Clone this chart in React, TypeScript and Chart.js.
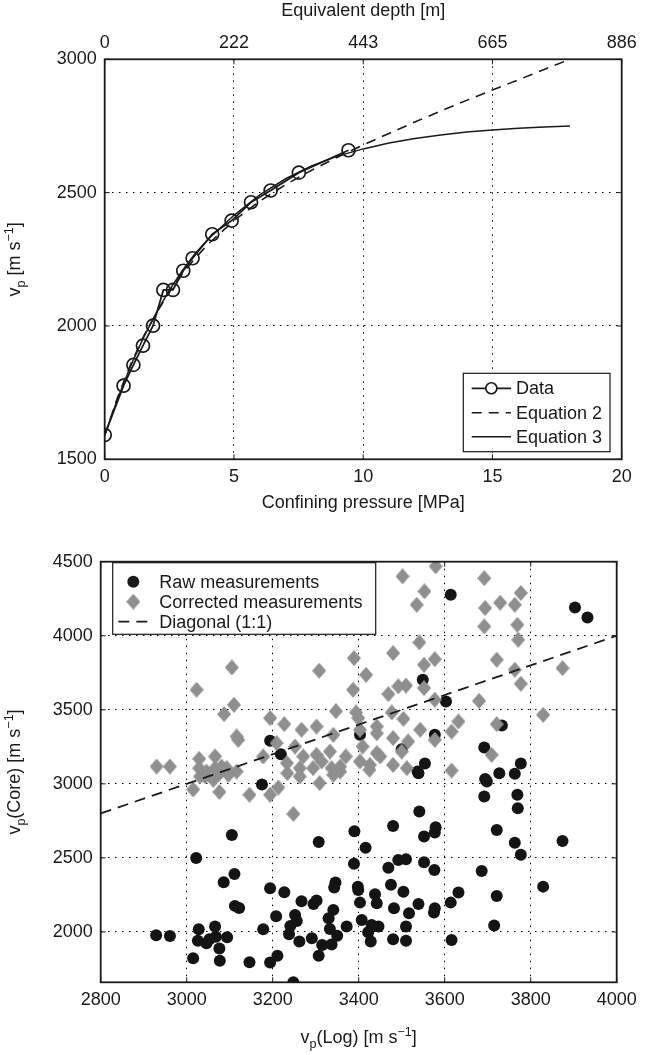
import React, { useEffect, useRef } from 'react';
import { Chart, registerables } from 'chart.js';

Chart.register(...registerables);

const FONT = "'Liberation Sans', Arial, Helvetica, sans-serif";
const INK = '#1a1a1a';

// ---------- Top chart data ----------
const pressureData = [0, 0.73, 1.11, 1.48, 1.87, 2.27, 2.64, 3.04, 3.4, 4.16, 4.91, 5.66, 6.42, 7.51, 9.43];
const velocityData = [1591, 1776, 1854, 1926, 2001, 2135, 2135, 2207, 2254, 2344, 2395, 2464, 2508, 2575, 2659];
const eqPressure = [0, 0.5, 1, 1.5, 2, 2.5, 3, 3.5, 4, 5, 6, 7, 8, 9, 10, 11, 12, 13, 14, 15, 16, 17, 18];
const eq2Velocity = [1590, 1733, 1855, 1960, 2049, 2127, 2195, 2254, 2307, 2395, 2468, 2530, 2584, 2633, 2679, 2722, 2765, 2806, 2846, 2885, 2923, 2962, 3000];
const eq3Velocity = [1590, 1727, 1849, 1956, 2050, 2134, 2207, 2272, 2325, 2415, 2492, 2552, 2600, 2637, 2664, 2686, 2703, 2716, 2727, 2735, 2741, 2746, 2750];
const pressureTicks = [0, 5, 10, 15, 20];
const depthTickLabels = ['0', '222', '443', '665', '886'];
const velocityTicks = [1500, 2000, 2500, 3000];

// ---------- Bottom chart data ----------
const rawLog = [
  3175, 3105, 3022, 3307, 3390, 3389, 3111, 3086, 3194, 3227,
  3346, 3343, 3267, 3295, 3302, 3112, 3122, 3208, 3252, 3256,
  3241, 3341, 3330, 3333, 3372, 3350, 3238, 3262, 3291, 3315,
  3337, 3307, 3178, 3211, 3194, 3146, 3248, 2929, 2961, 3028,
  3026, 3046, 3066, 3068, 3094, 3076, 3077, 3015, 3053,
  3539, 3694, 3698, 3727, 3763, 3692, 3769, 3770, 3541, 3480,
  3579, 3577, 3552, 3416, 3721, 3763, 3777, 3874, 3686, 3721,
  3715, 3829, 3469, 3492, 3510, 3552, 3576, 3398, 3399, 3475,
  3504, 3438, 3403, 3442, 3482, 3517, 3539, 3577, 3575, 3614,
  3632, 3407, 3430, 3446, 3422, 3428, 3480, 3510, 3510, 3616,
  3614, 3903, 3932, 3549, 3603, 3733, 3577, 3500, 3692, 3554,
  3537, 3777, 3403, 3194, 3219,
];
const rawCore = [
  2995, 2655, 2500, 2608, 2680, 2460, 2392, 2336, 2295, 2268,
  2334, 2300, 2207, 2189, 2212, 2176, 2162, 2106, 2115, 2074,
  2040, 2149, 2092, 2020, 2036, 1975, 1984, 1935, 1957, 1912,
  1916, 1840, 2018, 1840, 1793, 1796, 1660, 1978, 1973, 2018,
  1941, 1924, 2036, 1968, 1964, 1889, 1806, 1822, 1951,
  3072, 3032, 3016, 3072, 3068, 2914, 2926, 2836, 2813, 2716,
  2707, 2671, 2644, 2568, 2689, 2603, 2522, 2614, 2412, 2243,
  2043, 2306, 2434, 2486, 2491, 2470, 2419, 2306, 2284, 2318,
  2272, 2255, 2198, 2194, 2160, 2126, 2189, 2160, 2131, 2198,
  2266, 2081, 2047, 2036, 1998, 1935, 1951, 2036, 1941, 1946,
  4277, 4191, 4124, 3703, 3556, 3394, 3331, 3234, 3245, 3137,
  3083, 3137, 3331, 3291, 3200,
];
const corrLog = [
  3105, 3023, 3110, 3087, 3308, 3389, 3387, 3347, 3194, 3227,
  3116, 3120, 3267, 3302, 3341, 3209, 3252, 3178, 3271, 3302,
  3314, 3333, 3370, 3337, 3357, 3263, 3294, 2930, 2961, 3029,
  3066, 3029, 3066, 3093, 3046, 3116, 3015, 3031, 3062, 3077,
  3076, 3097, 3043, 3081, 3146, 3194, 3213, 3248, 3234, 3263,
  3309, 3341, 3357,
  3502, 3579, 3553, 3535, 3692, 3777, 3729, 3763, 3694, 3769,
  3692, 3771, 3541, 3480, 3577, 3552, 3417, 3721, 3763, 3874,
  3777, 3469, 3492, 3510, 3552, 3577, 3680, 3829, 3394, 3399,
  3477, 3504, 3721, 3403, 3442, 3442, 3543, 3577, 3616, 3632,
  3480, 3515, 3409, 3442, 3450, 3233, 3480, 3512, 3425, 3616,
  3709, 3403, 3426, 3500,
];
const corrCore = [
  3786, 3635, 3534, 3471, 3764, 3849, 3635, 3491, 3444, 3403,
  3320, 3297, 3365, 3387, 3331, 3275, 3252, 3185, 3185, 3196,
  3151, 3218, 3185, 3106, 3117, 3106, 3106, 3117, 3117, 3169,
  3185, 3106, 3106, 3106, 3083, 3083, 2962, 3050, 3027, 3072,
  2945, 3061, 3050, 3117, 2926, 2926, 2975, 2797, 3072, 3050,
  3005, 3061, 3083,
  4401, 4469, 4300, 4209, 4389, 4289, 4223, 4209, 4187, 4074,
  4063, 3973, 3955, 3883, 3842, 3804, 3736, 3838, 3770, 3781,
  3676, 3606, 3658, 3664, 3647, 3568, 3560, 3466, 3482, 3444,
  3482, 3439, 3403, 3365, 3387, 3342, 3365, 3297, 3353, 3421,
  3309, 3286, 3252, 3207, 3185, 3140, 3128, 3106, 3095, 3090,
  3196, 3151, 3128, 3218,
];
const diagonalLog = [2800, 4000];
const diagonalCore = [2800, 4000];
const logTicks = [2800, 3000, 3200, 3400, 3600, 3800, 4000];
const coreTicks = [2000, 2500, 3000, 3500, 4000, 4500];

// axis titles: [text, kind] where kind '' normal, 'sub' subscript, 'sup' superscript
const topYTitle: [string, string][] = [['v', ''], ['p', 'sub'], [' [m s', ''], ['−1', 'sup'], [']', '']];
const bottomXTitle: [string, string][] = [['v', ''], ['p', 'sub'], ['(Log) [m s', ''], ['−1', 'sup'], [']', '']];
const bottomYTitle: [string, string][] = [['v', ''], ['p', 'sub'], ['(Core) [m s', ''], ['−1', 'sup'], [']', '']];

const font18 = { family: FONT, size: 18 };

function pts(xs: number[], ys: number[]) {
  return xs.map((x, i) => ({ x, y: ys[i] }));
}

function makeDiamond(w: number, h: number, color: string) {
  const c = document.createElement('canvas');
  c.width = w;
  c.height = h;
  const g = c.getContext('2d')!;
  g.fillStyle = color;
  g.beginPath();
  g.moveTo(w / 2, 0);
  g.lineTo(w, h / 2);
  g.lineTo(w / 2, h);
  g.lineTo(0, h / 2);
  g.closePath();
  g.fill();
  return c;
}

function drawRich(ctx: CanvasRenderingContext2D, segs: [string, string][], cx: number, cy: number, rotate: boolean) {
  ctx.save();
  ctx.fillStyle = INK;
  ctx.textBaseline = 'alphabetic';
  ctx.textAlign = 'left';
  const fontFor = (k: string) => (k ? `12.5px ${FONT}` : `18px ${FONT}`);
  let total = 0;
  segs.forEach(([t, k]) => {
    ctx.font = fontFor(k);
    total += ctx.measureText(t).width;
  });
  ctx.translate(cx, cy);
  if (rotate) ctx.rotate(-Math.PI / 2);
  let x = -total / 2;
  const base = 6;
  segs.forEach(([t, k]) => {
    ctx.font = fontFor(k);
    const dy = k === 'sub' ? 4.5 : k === 'sup' ? -7.5 : 0;
    ctx.fillText(t, x, base + dy);
    x += ctx.measureText(t).width;
  });
  ctx.restore();
}

function drawFrame(chart: any, xTicks: number[], yTicks: number[]) {
  const { ctx, chartArea: a, scales } = chart;
  ctx.save();
  ctx.strokeStyle = INK;
  ctx.lineWidth = 1;
  ctx.setLineDash([]);
  const tl = 5;
  ctx.beginPath();
  xTicks.forEach((v) => {
    const px = scales.x.getPixelForValue(v);
    ctx.moveTo(px, a.bottom);
    ctx.lineTo(px, a.bottom - tl);
    ctx.moveTo(px, a.top);
    ctx.lineTo(px, a.top + tl);
  });
  yTicks.forEach((v) => {
    const py = scales.y.getPixelForValue(v);
    ctx.moveTo(a.left, py);
    ctx.lineTo(a.left + tl, py);
    ctx.moveTo(a.right, py);
    ctx.lineTo(a.right - tl, py);
  });
  ctx.stroke();
  ctx.lineWidth = 1.8;
  ctx.strokeRect(a.left, a.top, a.right - a.left, a.bottom - a.top);
  ctx.restore();
}

const plainLabel = (v: any) => String(v);

function gridScale(extra: any) {
  return {
    type: 'linear',
    grid: { color: '#000', lineWidth: 1, drawTicks: false },
    border: { display: false, dash: [1.5, 5.5] },
    ...extra,
  };
}

function TopChart() {
  const ref = useRef<HTMLCanvasElement>(null);
  useEffect(() => {
    const frame = {
      id: 'topFrame',
      afterDraw(chart: any) {
        drawFrame(chart, pressureTicks, velocityTicks);
        const { ctx, chartArea: a } = chart;
        drawRich(ctx, topYTitle, 14, (a.top + a.bottom) / 2, true);
        const ds = chart.data.datasets;
        const right = a.right - 11.7;
        const bottom = a.bottom - 7.6;
        const w = 146.7;
        const h = 78.4;
        const left = right - w;
        const top = bottom - h;
        ctx.save();
        ctx.fillStyle = '#fff';
        ctx.fillRect(left, top, w, h);
        ctx.strokeStyle = INK;
        ctx.lineWidth = 1.2;
        ctx.setLineDash([]);
        ctx.strokeRect(left, top, w, h);
        const rows = [top + 15, top + 39.4, top + 63.4];
        const x0 = left + 8.4;
        const x1 = left + 47.7;
        ctx.font = `18px ${FONT}`;
        ctx.textBaseline = 'middle';
        ctx.textAlign = 'left';
        rows.forEach((y, i) => {
          const d = ds[i];
          ctx.strokeStyle = INK;
          ctx.lineWidth = d.borderWidth;
          ctx.setLineDash(d.borderDash || []);
          ctx.beginPath();
          ctx.moveTo(x0, y);
          ctx.lineTo(x1, y);
          ctx.stroke();
          ctx.setLineDash([]);
          if (i === 0) {
            ctx.beginPath();
            ctx.arc((x0 + x1) / 2, y, 5.5, 0, Math.PI * 2);
            ctx.fillStyle = '#fff';
            ctx.fill();
            ctx.lineWidth = 1.6;
            ctx.stroke();
          }
          ctx.fillStyle = INK;
          ctx.fillText(d.label, left + 52.7, y + 1);
        });
        ctx.restore();
      },
    };
    const chart = new Chart(ref.current!, {
      type: 'scatter',
      data: {
        datasets: [
          {
            label: 'Data',
            data: pts(pressureData, velocityData),
            showLine: true,
            borderColor: INK,
            borderWidth: 1.8,
            pointRadius: 6.5,
            pointBorderWidth: 1.7,
            pointBorderColor: INK,
            pointBackgroundColor: 'rgba(0,0,0,0)',
          },
          {
            label: 'Equation 2',
            data: pts(eqPressure, eq2Velocity),
            showLine: true,
            borderColor: INK,
            borderWidth: 1.6,
            borderDash: [10, 7],
            pointRadius: 0,
          },
          {
            label: 'Equation 3',
            data: pts(eqPressure, eq3Velocity),
            showLine: true,
            borderColor: INK,
            borderWidth: 1.5,
            pointRadius: 0,
          },
        ],
      } as any,
      options: {
        animation: false,
        responsive: false,
        events: [],
        layout: { padding: { left: 0, right: 25.3, top: 0, bottom: 0 } },
        plugins: { legend: { display: false }, tooltip: { enabled: false } },
        scales: {
          x: gridScale({
            position: 'bottom',
            min: 0,
            max: 20,
            afterBuildTicks: (s: any) => { s.ticks = pressureTicks.map((value) => ({ value })); },
            afterFit: (s: any) => { s.height = 60.7; },
            ticks: { font: font18, color: INK, padding: 7, callback: plainLabel },
            title: { display: true, text: 'Confining pressure [MPa]', font: font18, color: INK, padding: { top: 0, bottom: 6 } },
          }),
          x2: {
            type: 'linear',
            position: 'top',
            min: 0,
            max: 20,
            grid: { display: false, drawTicks: false },
            border: { display: false },
            afterBuildTicks: (s: any) => { s.ticks = pressureTicks.map((value) => ({ value })); },
            afterFit: (s: any) => { s.height = 59.3; },
            ticks: {
              font: font18,
              color: INK,
              padding: 5,
              callback: (v: any) => depthTickLabels[pressureTicks.indexOf(Number(v))],
            },
            title: { display: true, text: 'Equivalent depth [m]', font: font18, color: INK, padding: { top: 0, bottom: 0 } },
          },
          y: gridScale({
            position: 'left',
            min: 1500,
            max: 3000,
            afterBuildTicks: (s: any) => { s.ticks = velocityTicks.map((value) => ({ value })); },
            afterFit: (s: any) => { s.width = 104.7; },
            ticks: { font: font18, color: INK, padding: 8, callback: plainLabel },
          }),
        },
      } as any,
      plugins: [frame],
    });
    return () => chart.destroy();
  }, []);
  return <canvas ref={ref} width={647} height={520} style={{ position: 'absolute', left: 0, top: 0, width: 647, height: 520 }} />;
}

function BottomChart() {
  const ref = useRef<HTMLCanvasElement>(null);
  useEffect(() => {
    const diamond = makeDiamond(14, 16, '#8f8f8f');
    const frame = {
      id: 'bottomFrame',
      afterDraw(chart: any) {
        drawFrame(chart, logTicks, coreTicks);
        const { ctx, chartArea: a } = chart;
        drawRich(ctx, bottomYTitle, 14, (a.top + a.bottom) / 2, true);
        drawRich(ctx, bottomXTitle, (a.left + a.right) / 2, 517, false);
        const ds = chart.data.datasets;
        const left = a.left + 12;
        const top = a.top + 1;
        const w = 263;
        const h = 71.6;
        ctx.save();
        ctx.fillStyle = '#fff';
        ctx.fillRect(left, top, w, h);
        ctx.strokeStyle = INK;
        ctx.lineWidth = 1.2;
        ctx.setLineDash([]);
        ctx.strokeRect(left, top, w, h);
        const rows = [top + 19, top + 39, top + 59];
        const cx = left + 20.6;
        ctx.font = `18px ${FONT}`;
        ctx.textBaseline = 'middle';
        ctx.textAlign = 'left';
        ctx.fillStyle = INK;
        ctx.beginPath();
        ctx.arc(cx, rows[0], 6, 0, Math.PI * 2);
        ctx.fill();
        ctx.drawImage(diamond, cx - 7, rows[1] - 8);
        ctx.strokeStyle = INK;
        ctx.lineWidth = 1.8;
        ctx.setLineDash([11, 7]);
        ctx.beginPath();
        ctx.moveTo(left + 5.6, rows[2]);
        ctx.lineTo(left + 37.3, rows[2]);
        ctx.stroke();
        ctx.setLineDash([]);
        ctx.fillStyle = INK;
        rows.forEach((y, i) => ctx.fillText(ds[i].label, left + 46.6, y + 1));
        ctx.restore();
      },
    };
    const chart = new Chart(ref.current!, {
      type: 'scatter',
      data: {
        datasets: [
          {
            label: 'Raw measurements',
            data: pts(rawLog, rawCore),
            pointStyle: 'circle',
            pointRadius: 6,
            pointBorderWidth: 0,
            pointBackgroundColor: '#141414',
            borderColor: '#141414',
            order: 3,
          },
          {
            label: 'Corrected measurements',
            data: pts(corrLog, corrCore),
            pointStyle: diamond,
            pointRadius: 7,
            pointBackgroundColor: '#8f8f8f',
            borderColor: '#8f8f8f',
            order: 2,
          },
          {
            label: 'Diagonal (1:1)',
            data: pts(diagonalLog, diagonalCore),
            showLine: true,
            borderColor: INK,
            borderWidth: 1.8,
            borderDash: [11, 7],
            pointRadius: 0,
            order: 1,
          },
        ],
      } as any,
      options: {
        animation: false,
        responsive: false,
        events: [],
        layout: { padding: { left: 0, right: 30.3, top: 41.7, bottom: 0 } },
        plugins: { legend: { display: false }, tooltip: { enabled: false } },
        scales: {
          x: gridScale({
            position: 'bottom',
            min: 2800,
            max: 4000,
            afterBuildTicks: (s: any) => { s.ticks = logTicks.map((value) => ({ value })); },
            afterFit: (s: any) => { s.height = 72.7; },
            ticks: { font: font18, color: INK, padding: 7, callback: plainLabel },
          }),
          y: gridScale({
            position: 'left',
            min: 1660,
            max: 4500,
            afterBuildTicks: (s: any) => { s.ticks = coreTicks.map((value) => ({ value })); },
            afterFit: (s: any) => { s.width = 100.7; },
            ticks: { font: font18, color: INK, padding: 8, callback: plainLabel },
          }),
        },
      } as any,
      plugins: [frame],
    });
    return () => chart.destroy();
  }, []);
  return <canvas ref={ref} width={647} height={535} style={{ position: 'absolute', left: 0, top: 520, width: 647, height: 535 }} />;
}

export default function App() {
  return (
    <div style={{ position: 'absolute', left: 0, top: 0, width: 647, height: 1055, background: '#fff' }}>
      <TopChart />
      <BottomChart />
    </div>
  );
}
